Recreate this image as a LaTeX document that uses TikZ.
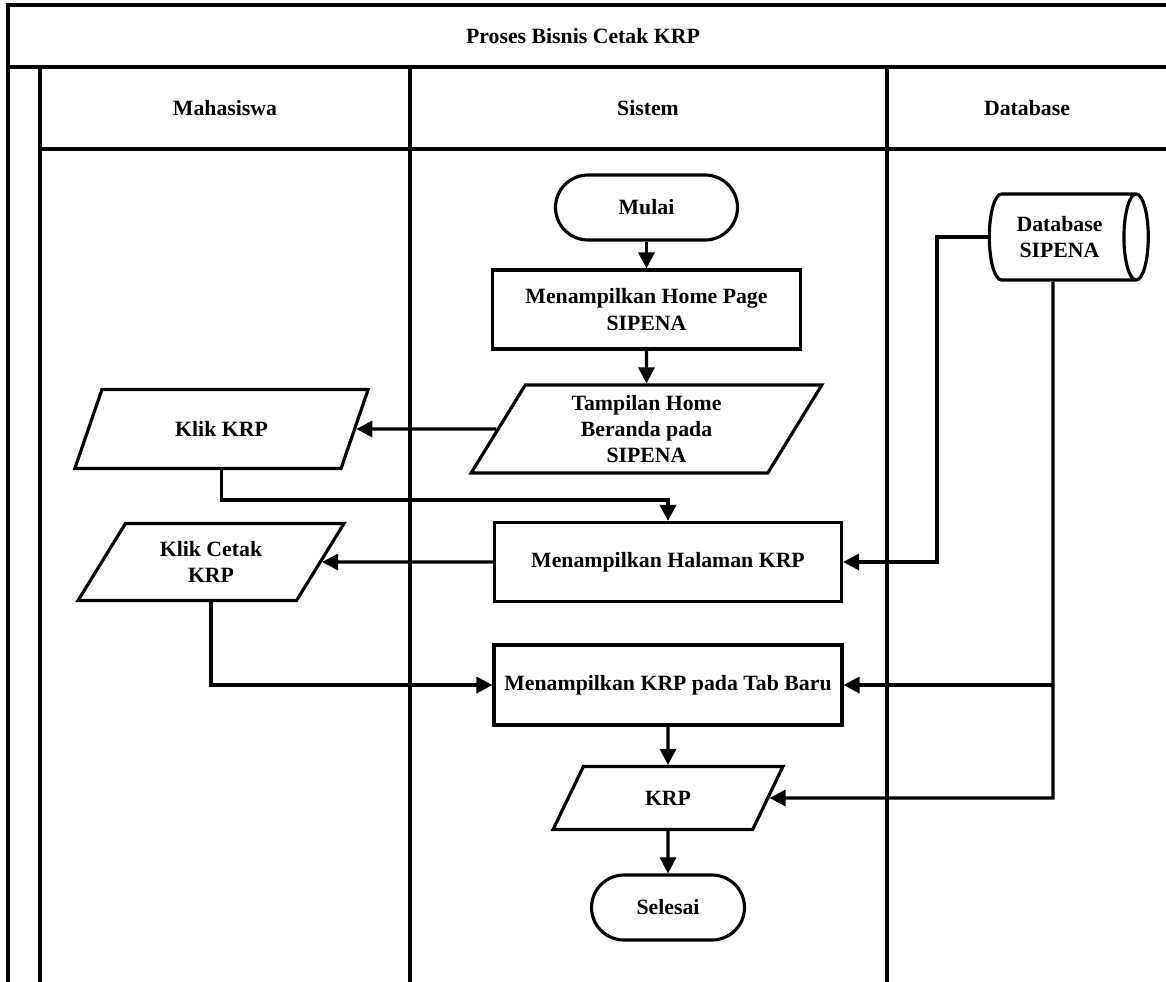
\documentclass[tikz,border=0pt]{standalone}
\usepackage{fontspec}
\setmainfont{Liberation Serif}
\usetikzlibrary{shapes.geometric,arrows.meta}
\begin{document}
\begin{tikzpicture}[x=0.02cm,y=-0.02cm,
  ln/.style={line width=1.8pt},
  arr/.style={ln,-{Triangle[length=0.32cm,width=0.32cm]}},
  lbl/.style={font=\bfseries\fontsize{12.4}{15}\selectfont,align=center},
  base/.style={lbl,draw,line width=1.8pt,inner sep=2pt,fill=white},
  proc/.style={base,rectangle},
  term/.style={base,rectangle,rounded corners=0.65cm,minimum height=1.3cm},
  io/.style={base,trapezium,trapezium left angle=#1,trapezium right angle=180-#1,trapezium stretches=true},
  db/.style={base,cylinder,aspect=0.5}
]
\useasboundingbox (0,0) rectangle (1166,981);
\fill[white] (0,0) rectangle (1166,981);
\clip (0,0) rectangle (1166,981);

% frame
\draw[ln] (8,1000) -- (8,5) -- (1180,5);
\draw[ln] (8,67) -- (1180,67);
\draw[ln] (40,67) -- (40,1000);
\draw[ln] (40,149) -- (1180,149);
\draw[ln] (410,67) -- (410,1000);
\draw[ln] (887,67) -- (887,1000);

\node[lbl] (title) at (583,36) {Proses Bisnis Cetak KRP};
\node[lbl] (h1) at (225,108) {Mahasiswa};
\node[lbl] (h2) at (648,108) {Sistem};
\node[lbl] (h3) at (1027,108) {Database};

% nodes
\node[term,minimum width=3.64cm] (mulai) at (646.5,207.5) {Mulai};
\node[proc,minimum width=6.16cm,minimum height=1.58cm] (home) at (646.5,309.5) {Menampilkan Home Page\\SIPENA};
\node[io=65,minimum width=7.02cm,minimum height=1.76cm] (tampil) at (646.5,429) {Tampilan Home\\Beranda pada\\SIPENA};
\node[io=63,minimum width=5.9cm,minimum height=1.58cm] (klik) at (221.5,429) {Klik KRP};
\node[proc,minimum width=6.94cm,minimum height=1.58cm] (halaman) at (668,562) {Menampilkan Halaman KRP};
\node[io=58,minimum width=5.34cm,minimum height=1.54cm] (cetak) at (211,562) {Klik Cetak\\KRP};
\node[proc,minimum width=6.96cm,minimum height=1.6cm] (tab) at (668,685) {Menampilkan KRP pada Tab Baru};
\node[io=66,minimum width=4.6cm,minimum height=1.26cm] (krp) at (668,798) {KRP};
\node[term,minimum width=3.06cm] (selesai) at (668,907.5) {Selesai};
\node[db,minimum width=1.72cm,minimum height=3.18cm] (sipena) at (1059.5,237) {Database\\SIPENA};

\coordinate (j1) at (668,500);
\coordinate (d1) at (937,237);
\coordinate (d3) at (1053,798);

% connectors
\draw[arr] (mulai) -- (home);
\draw[arr] (home) -- (tampil);
\draw[arr] (tampil) -- (klik);
\draw[arr] (klik) |- (j1) -- (halaman);
\draw[arr] (halaman) -- (cetak);
\draw[arr] (cetak) |- (tab);
\draw[arr] (tab) -- (krp);
\draw[arr] (krp) -- (selesai);
\draw[arr] (sipena) -- (d1) |- (halaman);
\draw[arr] (d3 |- sipena.south) -- (d3) -- (krp);
\draw[arr] (d3 |- tab) -- (tab);
\end{tikzpicture}
\end{document}
